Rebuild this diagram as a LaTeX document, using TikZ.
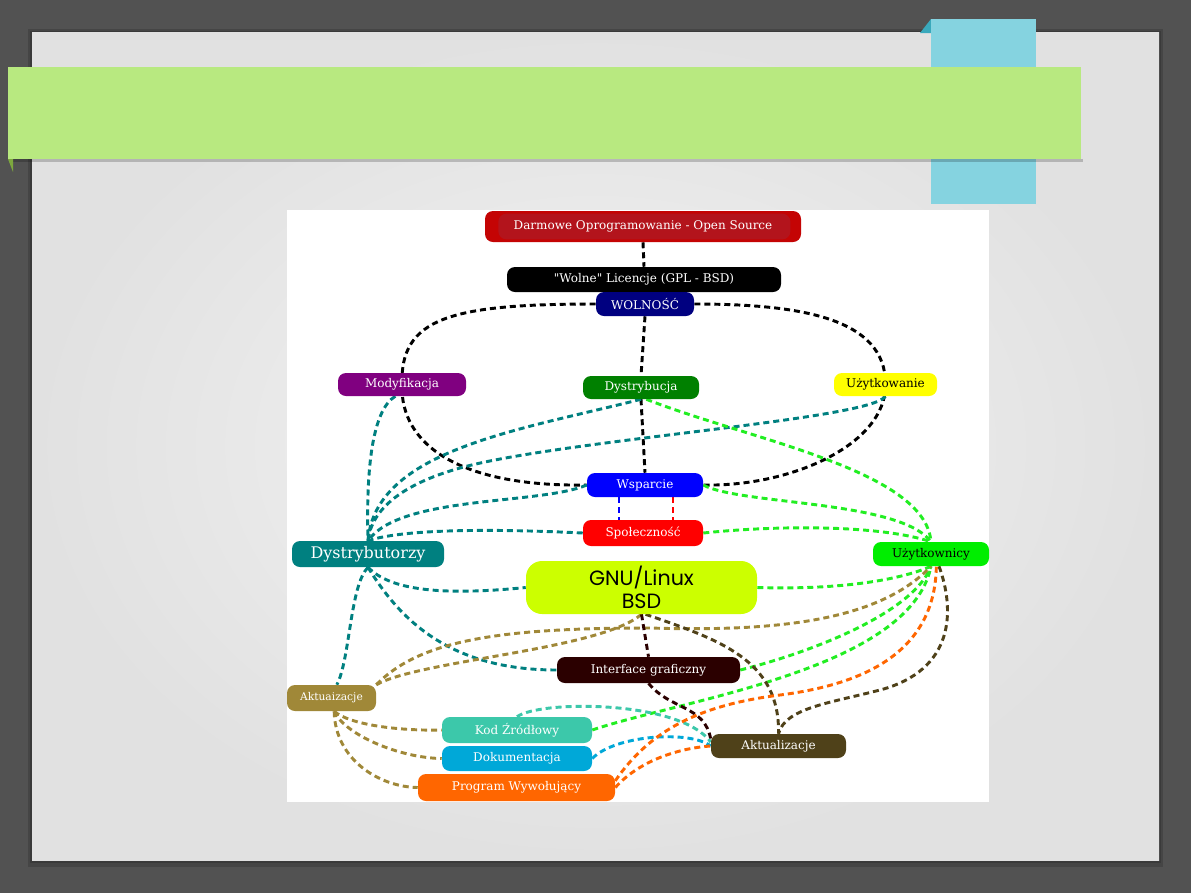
\documentclass[tikz,border=0pt]{standalone}
\usepackage{fontspec}
\setmainfont{DejaVu Serif}
\newfontfamily\rawserif{DejaVu Serif}
\newfontfamily\gothic{Poppins}
\usetikzlibrary{positioning}
\definecolor{slidebg}{HTML}{525252}
\definecolor{slidein}{HTML}{F4F4F4}
\definecolor{slideout}{HTML}{E1E1E1}
\definecolor{tabblue}{HTML}{85D3E0}
\definecolor{tabdark}{HTML}{3AA9BC}
\definecolor{banner}{HTML}{B8E980}
\definecolor{bannerdark}{HTML}{7DA83E}
\definecolor{darred}{HTML}{C40404}
\definecolor{darin}{HTML}{B3141C}
\definecolor{wolnavy}{HTML}{000080}
\definecolor{modpurple}{HTML}{800080}
\definecolor{dysgreen}{HTML}{008000}
\definecolor{uzyyellow}{HTML}{FFFF00}
\definecolor{wspblue}{HTML}{0000FF}
\definecolor{spored}{HTML}{FF0000}
\definecolor{dtrteal}{HTML}{008080}
\definecolor{uzkgreen}{HTML}{00EE00}
\definecolor{linkgreen}{HTML}{22EE22}
\definecolor{gnulime}{HTML}{CCFF00}
\definecolor{intbrown}{HTML}{2B0000}
\definecolor{aktolive}{HTML}{A08838}
\definecolor{kodturq}{HTML}{3CC8AA}
\definecolor{dokcyan}{HTML}{00A8D8}
\definecolor{prgorange}{HTML}{FF6600}
\definecolor{aktbrown}{HTML}{4F4119}
\pgfdeclarelayer{back}
\pgfdeclarelayer{links}
\pgfsetlayers{back,links,main}
\tikzset{
  pill/.style={rounded corners=6pt,inner sep=0pt,text=white,font=\fontsize{9}{11}\selectfont},
  link/.style={line width=2.2pt,dash pattern=on 4.5pt off 3pt},
}
\begin{document}
\begin{tikzpicture}[x=0.75pt,y=-0.75pt]
\useasboundingbox (0,0) rectangle (1191,893);
\begin{pgfonlayer}{back}
\fill[slidebg] (0,0) rectangle (1191,893);
\fill[black,opacity=0.15] (28,29) rectangle (1163,867);
\fill[black,opacity=0.15] (30,31) rectangle (1161,863);
\shade[inner color=slidein,outer color=slideout] (32,32) rectangle (1159,860);
\fill[tabdark] (920,33) -- (931,19) -- (931,33) -- cycle;
\fill[tabblue] (931,19) rectangle (1036,204);
\fill[black,opacity=0.2] (10,159) rectangle (1083,162);
\fill[bannerdark] (8,159) -- (13,159) -- (13,172) -- cycle;
\fill[banner] (8,67) rectangle (1081,159);
\fill[white] (287,210) rectangle (989,802);
\end{pgfonlayer}

\node[pill,fill=darred,minimum width=237pt,minimum height=23.25pt,path picture={\fill[darin] ([xshift=10pt,yshift=-2pt]path picture bounding box.north west) rectangle ([xshift=-8pt,yshift=2pt]path picture bounding box.south east);}] (dar) at (643,226.5) {Darmowe Oprogramowanie - Open Source};
\node[pill,fill=black,minimum width=205.5pt,minimum height=18.75pt] (lic) at (644,279.5) {{\rawserif"}Wolne{\rawserif"} Licencje (GPL - BSD)};
\node[pill,fill=wolnavy,minimum width=73.5pt,minimum height=18pt] (wol) at (645,304) {WOLNOŚĆ};
\node[pill,fill=modpurple,minimum width=96pt,minimum height=17.25pt] (mod) at (402,384.5) {Modyfikacja};
\node[pill,fill=dysgreen,minimum width=87pt,minimum height=17.25pt] (dys) at (641,387.5) {Dystrybucja};
\node[pill,fill=uzyyellow,text=black,minimum width=77.25pt,minimum height=17.25pt] (uzy) at (885.5,384.5) {Użytkowanie};
\node[pill,fill=wspblue,minimum width=87pt,minimum height=18pt] (wsp) at (645,485) {Wsparcie};
\node[pill,fill=spored,minimum width=90pt,minimum height=19.5pt] (spo) at (643,533) {Społeczność};
\node[pill,fill=dtrteal,minimum width=114pt,minimum height=19.5pt,font=\fontsize{12}{14}\selectfont] (dtr) at (368,554) {Dystrybutorzy};
\node[pill,fill=uzkgreen,text=black,minimum width=87pt,minimum height=18pt] (uzk) at (931,554) {Użytkownicy};
\node[pill,fill=gnulime,text=black,rounded corners=12pt,minimum width=173.25pt,minimum height=39.75pt,align=center,font=\gothic\fontsize{15.5}{17.5}\selectfont] (gnu) at (641.5,587.5) {GNU/Linux\\BSD};
\node[pill,fill=intbrown,minimum width=137.25pt,minimum height=19.5pt] (int) at (648.5,670) {Interface graficzny};
\node[pill,fill=aktolive,minimum width=66.75pt,minimum height=19.5pt,font=\fontsize{8}{10}\selectfont] (akti) at (331.5,698) {Aktuaizacje};
\node[pill,fill=kodturq,minimum width=112.5pt,minimum height=19.5pt] (kod) at (517,730) {Kod Źródłowy};
\node[pill,fill=dokcyan,minimum width=112.5pt,minimum height=18.75pt] (dok) at (517,758.5) {Dokumentacja};
\node[pill,fill=prgorange,minimum width=147.75pt,minimum height=20.25pt] (prg) at (516.5,787.5) {Program Wywołujący};
\node[pill,fill=aktbrown,minimum width=101.25pt,minimum height=18pt] (aktu) at (778.5,746) {Aktualizacje};

\begin{pgfonlayer}{links}
% black frame
\draw[link,black] (dar.south) -- (lic.north);
\draw[link,black] (wol.south) -- (dys.north);
\draw[link,black] (dys.south) -- (wsp.north);
\draw[link,black] (wol.west) .. controls (450,304) and (400,318) .. (mod.center) .. controls (400,445) and (460,487) .. (wsp.west);
\draw[link,black] (wol.east) .. controls (800,304) and (886,318) .. (uzy.center) .. controls (886,445) and (790,487) .. (wsp.east);
\draw[link,wspblue] ([xshift=-19.5pt]wsp.south) -- ([xshift=-18pt]spo.north);
\draw[link,spored] ([xshift=21pt]wsp.south) -- ([xshift=22.5pt]spo.north);
% dystrybutorzy
\draw[link,dtrteal] ([xshift=-5pt]mod.south) .. controls (372,410) and (366,470) .. (dtr.north);
\draw[link,dtrteal] (dys.south) .. controls (520,430) and (375,450) .. (dtr.north);
\draw[link,dtrteal] (uzy.south) .. controls (870,420) and (560,440) .. (460,468) .. controls (410,482) and (372,505) .. (dtr.north);
\draw[link,dtrteal] (wsp.west) .. controls (540,505) and (400,495) .. (dtr.north);
\draw[link,dtrteal] (spo.west) .. controls (480,528) and (400,530) .. (dtr.north);
\draw[link,dtrteal] (dtr.south) .. controls (390,590) and (440,596) .. (gnu.west);
\draw[link,dtrteal] (dtr.south) .. controls (400,620) and (450,670) .. (int.west);
\draw[link,dtrteal] (dtr.south) .. controls (350,585) and (350,660) .. ([xshift=4pt]akti.north);
% uzytkownicy
\draw[link,linkgreen] ([xshift=4pt]dys.south) .. controls (750,440) and (925,470) .. (uzk.north);
\draw[link,linkgreen] (wsp.east) .. controls (740,505) and (900,500) .. (uzk.north);
\draw[link,linkgreen] (spo.east) .. controls (780,525) and (880,525) .. (uzk.north);
\draw[link,linkgreen] (gnu.east) .. controls (840,590) and (900,580) .. (uzk.south);
\draw[link,linkgreen] (int.east) .. controls (820,650) and (915,610) .. (uzk.south);
\draw[link,linkgreen] (kod.east) .. controls (680,700) and (910,670) .. (uzk.south);
% aktuaizacje
\draw[link,aktolive] (akti.north east) .. controls (420,660) and (600,650) .. (gnu.south);
\draw[link,aktolive] (akti.north east) .. controls (420,640) and (500,628) .. (650,628) .. controls (780,632) and (880,620) .. (uzk.south);
\draw[link,aktolive] ([xshift=2pt]akti.south) .. controls (350,725) and (400,731) .. (kod.west);
\draw[link,aktolive] ([xshift=2pt]akti.south) .. controls (345,735) and (400,758) .. (dok.west);
\draw[link,aktolive] ([xshift=2pt]akti.south) .. controls (335,760) and (380,787) .. (prg.west);
% aktualizacje
\draw[link,intbrown] (gnu.south) -- (int.north);
\draw[link,aktbrown] ([xshift=3pt]gnu.south) .. controls (720,640) and (780,660) .. (aktu.north);
\draw[link,aktbrown] ([xshift=6pt]uzk.south) .. controls (955,610) and (955,670) .. (880,690) .. controls (830,703) and (785,708) .. (aktu.north);
\draw[link,intbrown] (int.south) .. controls (670,710) and (705,705) .. ([yshift=5pt]aktu.west);
\draw[link,kodturq] (kod.north) .. controls (540,700) and (680,700) .. ([yshift=3pt]aktu.west);
\draw[link,dokcyan] (dok.east) .. controls (615,735) and (690,730) .. (aktu.west);
\draw[link,prgorange] (prg.east) .. controls (640,760) and (680,748) .. (aktu.west);
\draw[link,prgorange] ([yshift=5pt]prg.east) .. controls (650,730) and (700,705) .. (780,695) .. controls (850,686) and (935,660) .. ([xshift=4pt]uzk.south);
\end{pgfonlayer}
\end{tikzpicture}
\end{document}
